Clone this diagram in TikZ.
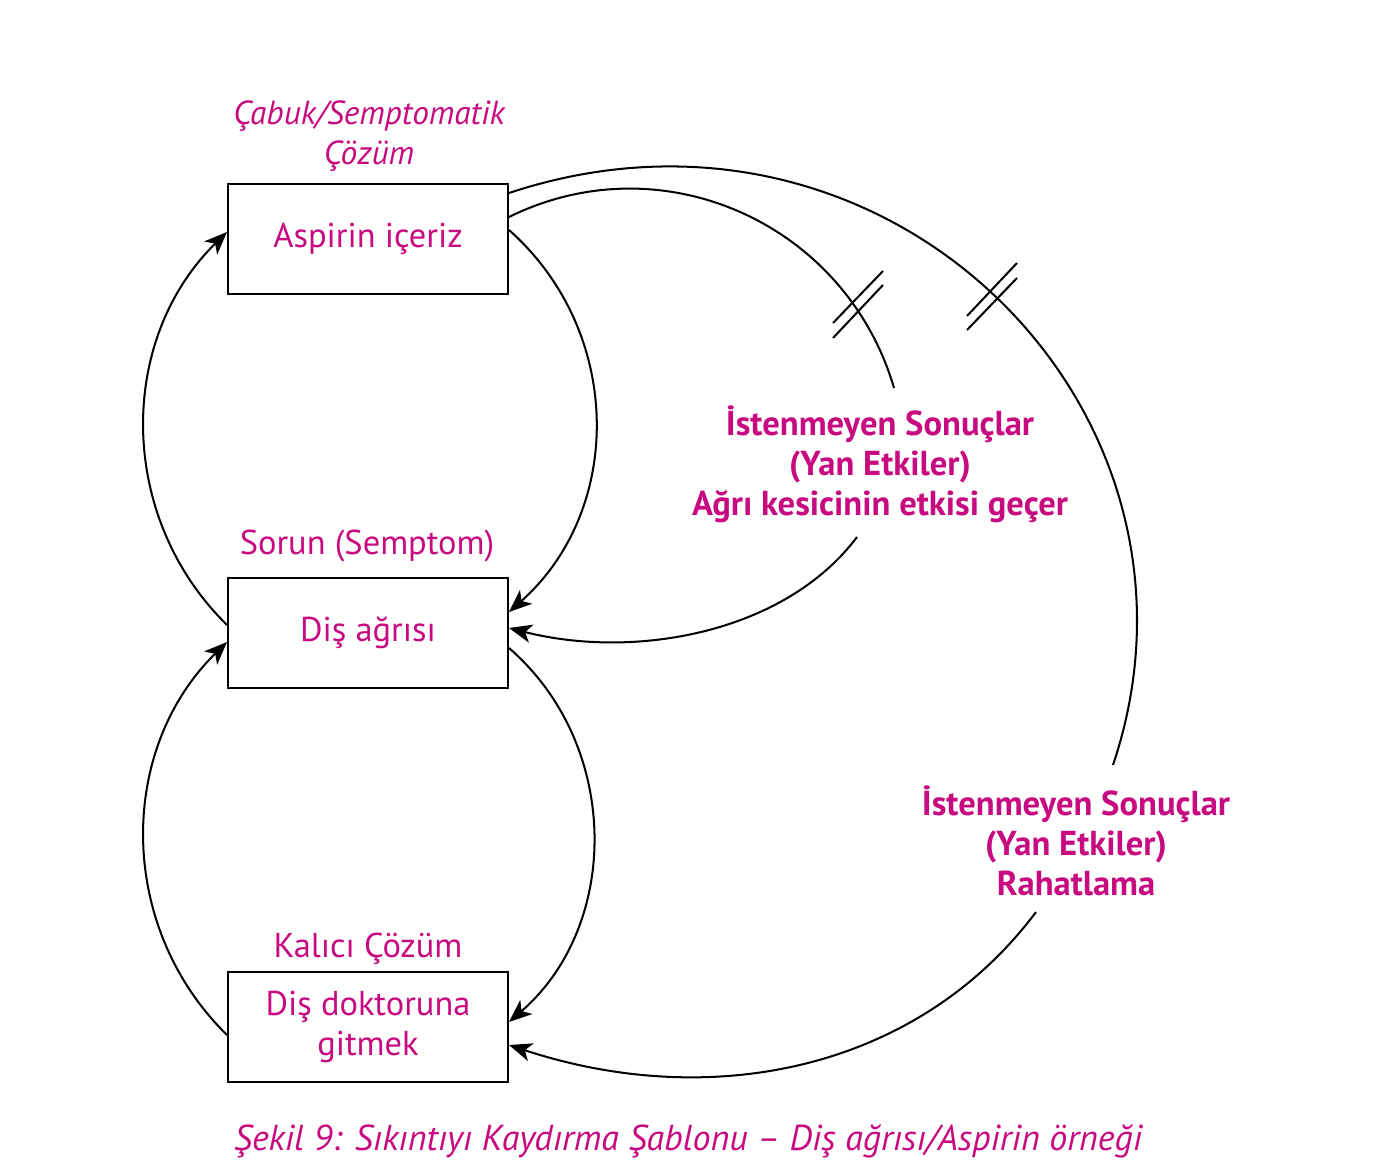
\documentclass[tikz,border=0pt]{standalone}
\usepackage{fontspec}
\setmainfont{PT Sans}
\usetikzlibrary{arrows.meta,calc}
\definecolor{pembe}{RGB}{200,10,128}
\begin{document}
\begin{tikzpicture}[x=0.02cm, y=-0.02cm, line width=1.15pt,
    >={Stealth[length=13pt,width=10.5pt,inset=3.5pt]},
    kutu/.style={draw, rectangle, minimum width=5.6cm, minimum height=2.2cm, text=pembe, align=center, font=\fontsize{19.6}{22.8}\selectfont},
    etiket/.style={text=pembe, align=center, font=\fontsize{19.6}{22.8}\selectfont},
    yan/.style={text=pembe, align=center, font=\bfseries\fontsize{19.7}{22.8}\selectfont}]
    \useasboundingbox (0,0) rectangle (1385,1172);
    % kutular
    \node[kutu] (asp) at (368,239) {Aspirin içeriz};
    \node[kutu] (dis) at (368,633) {Diş ağrısı};
    \node[kutu] (dok) at (368,1027) {Diş doktoruna\\gitmek};
    % basliklar
    \node[etiket, font=\itshape\fontsize{19}{22.8}\selectfont] (cabuk) at (369,136) {Çabuk/Semptomatik\\Çözüm};
    \node[etiket] (sorun) at (367,546) {Sorun (Semptom)};
    \node[etiket] (kalici) at (368,949) {Kalıcı Çözüm};
    \node[yan] (yan1) at (880,464) {İstenmeyen Sonuçlar\\(Yan Etkiler)\\Ağrı kesicinin etkisi geçer};
    \node[yan] (yan2) at (1076,841) {İstenmeyen Sonuçlar\\(Yan Etkiler)\\Rahatlama};
    \node[etiket, font=\itshape\fontsize{20.5}{22.8}\selectfont] (sekil) at (688,1141) {Şekil 9: Sıkıntıyı Kaydırma Şablonu – Diş ağrısı/Aspirin örneği};
    % bos uclar
    \coordinate (k1) at (894,388);
    \coordinate (k2) at (857,537);
    \coordinate (k3) at (1113,765);
    \coordinate (k4) at (1036,912);
    % donguler
    \draw[->] ($(dis.west)+(0,-8)$) .. controls +(-110,-108) and +(-110,108) .. ($(asp.west)+(0,-7)$);
    \draw[->] ($(asp.east)+(0,-9)$) .. controls +(115,102) and +(115,-102) .. ($(dis.east)+(0,-21)$);
    \draw[->] ($(dis.east)+(0,15)$) .. controls +(112,97) and +(112,-97) .. ($(dok.east)+(0,-5)$);
    \draw[->] ($(dok.west)+(0,8)$) .. controls +(-110,-108) and +(-110,108) .. ($(dis.west)+(0,9)$);
    \draw ($(asp.east)+(0,-22)$) .. controls +(154,-76) and +(-48,-164) .. (k1);
    \draw[->] (k2) .. controls +(-72,96) and +(126,32) .. ($(dis.east)+(0,-5)$);
    \draw ($(asp.east)+(0,-46)$) .. controls +(380,-126) and +(119,-354) .. (k3);
    \draw[->] (k4) .. controls +(-120,160) and +(200,66) .. ($(dok.east)+(0,18)$);
    % gecikme isaretleri
    \draw (833,323) -- (883,271);
    \draw (833,338) -- (883,285);
    \draw (967,316) -- (1017,263);
    \draw (967,330) -- (1017,278);
\end{tikzpicture}
\end{document}
